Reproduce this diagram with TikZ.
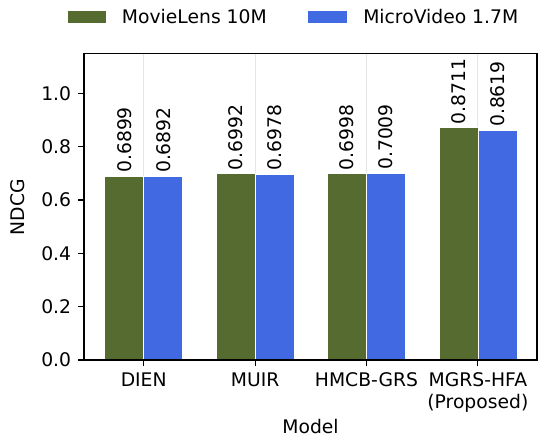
\documentclass[tikz,border=0pt]{standalone}
\usepackage{fontspec}
\setmainfont{DejaVu Sans}
\definecolor{olive}{HTML}{556B2F}
\definecolor{royal}{HTML}{4169E1}
\definecolor{gridgray}{HTML}{E6E6E6}
\begin{document}
\begin{tikzpicture}[x=0.72pt,y=0.72pt,
  every node/.style={font=\fontsize{13.5}{15.3}\selectfont, inner sep=0pt},
  axisline/.style={line width=0.8pt, black},
  gridline/.style={line width=0.8pt, gridgray},
  greenbar/.style={fill=olive, draw=white, line width=0.4pt},
  bluebar/.style={fill=royal, draw=white, line width=0.4pt},
  vallabel/.style={rotate=90, anchor=west},
  ticklab/.style={anchor=east},
  catlab/.style={anchor=north, align=center}]
\useasboundingbox (0,0) rectangle (551,440);
% axes frame: x from 84 to 537, y from 80 (0.0) to 386.7 (1.15)
\def\xo{143.7}\def\du{111.4}\def\yo{80}\def\yu{266.7}\def\bw{39}
% vertical grid at each category
\foreach \i in {0,1,2,3}
  \draw[gridline] ({\xo+\i*\du},\yo) -- ({\xo+\i*\du},386.7);
% bars and value labels
\foreach \i/\g/\b/\gl/\bl in {0/0.6899/0.6892/0.6899/0.6892,1/0.6992/0.6978/0.6992/0.6978,2/0.6998/0.7009/0.6998/0.7009,3/0.8711/0.8619/0.8711/0.8619}{
  \path[greenbar] ({\xo+\i*\du-\bw},\yo) rectangle ({\xo+\i*\du},{\yo+\g*\yu});
  \path[bluebar] ({\xo+\i*\du},\yo) rectangle ({\xo+\i*\du+\bw},{\yo+\b*\yu});
  \node[vallabel] (vg\i) at ({\xo+\i*\du-\bw/2},{\yo+\g*\yu+3}) {\gl};
  \node[vallabel] (vb\i) at ({\xo+\i*\du+\bw/2},{\yo+\b*\yu+3}) {\bl};
}
% frame
\draw[axisline] (84,\yo) rectangle (537,386.7);
% y ticks
\foreach \v in {0.0,0.2,0.4,0.6,0.8,1.0}{
  \draw[axisline] (84,{\yo+\v*\yu}) -- (77.7,{\yo+\v*\yu});
  \node[ticklab] (yt\v) at (71.4,{\yo+\v*\yu}) {\v};
}
% x ticks
\foreach \i in {0,1,2,3}
  \draw[axisline] ({\xo+\i*\du},\yo) -- ({\xo+\i*\du},73.7);
\node[catlab] (c0) at ({\xo+0*\du},67.4) {DIEN};
\node[catlab] (c1) at ({\xo+1*\du},67.4) {MUIR};
\node[catlab] (c2) at ({\xo+2*\du},67.4) {HMCB-GRS};
\node[catlab] (c3) at ({\xo+3*\du},67.4) {MGRS-HFA\\(Proposed)};
% axis titles
\node[rotate=90] (ylab) at (18,233) {NDCG};
\node (xlab) at (310.5,13) {Model};
% legend
\path[fill=olive] (68,416.7) rectangle (106,429.3);
\node[anchor=west] (leg1) at (121.7,423) {MovieLens 10M};
\path[fill=royal] (308,416.7) rectangle (347,429.3);
\node[anchor=west] (leg2) at (363,423) {MicroVideo 1.7M};
\end{tikzpicture}
\end{document}
